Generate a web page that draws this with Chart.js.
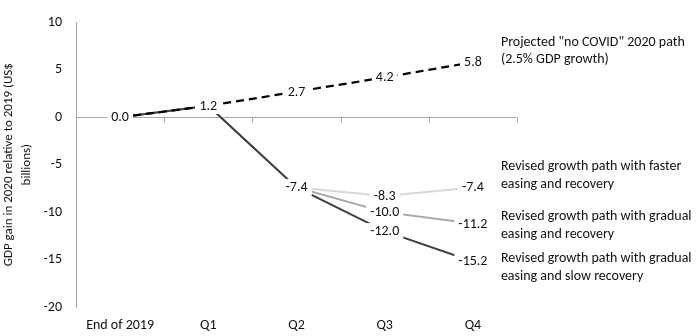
<!DOCTYPE html>
<html>
<head>
<meta charset="utf-8">
<script src="https://cdn.jsdelivr.net/npm/chart.js@4.4.1/dist/chart.umd.min.js"></script>
<style>
  html, body { margin: 0; padding: 0; background: #ffffff; }
  #wrap { width: 699px; height: 336px; }
</style>
</head>
<body>
<div id="wrap"><canvas id="c" width="699" height="336"></canvas></div>
<script>
// ---- data ----
const categories = ['End of 2019', 'Q1', 'Q2', 'Q3', 'Q4'];
const projected = [0.0, 1.2, 2.7, 4.2, 5.8];
const slowRecovery = [0.0, 1.2, -7.4, -12.0, -15.2];
const gradualRecovery = [0.0, 1.2, -7.4, -10.0, -11.2];
const fasterRecovery = [0.0, 1.2, -7.4, -8.3, -7.4];
const yMin = -20;
const yMax = 10;
const yStep = 5;
const yTitle = ['GDP gain in 2020 relative to 2019 (US$', 'billions)'];
const nameProjected = ['Projected "no COVID" 2020 path', '(2.5% GDP growth)'];
const nameSlow = ['Revised growth path with gradual', 'easing and slow recovery'];
const nameGradual = ['Revised growth path with gradual', 'easing and recovery'];
const nameFaster = ['Revised growth path with faster', 'easing and recovery'];

const FONT = 'Carlito, Calibri, Lato, "Liberation Sans", sans-serif';
const TEXT = '#111111';
const AXIS = '#a6a6a6';
const FS = 14;

// styling per series (kept apart from the data)
const nameOffsets = [-11, 6, 2, -12];

const zeroAxisPlugin = {
  id: 'zeroAxis',
  beforeDatasetsDraw(chart) {
    const ctx = chart.ctx;
    const x = chart.scales.x, y = chart.scales.y;
    const y0 = Math.round(y.getPixelForValue(0)) + 0.5;
    ctx.save();
    ctx.strokeStyle = AXIS;
    ctx.lineWidth = 1;
    ctx.beginPath();
    ctx.moveTo(chart.chartArea.left, y0);
    ctx.lineTo(chart.chartArea.right, y0);
    const n = categories.length;
    for (let i = 0; i < n; i++) {
      let bx;
      if (i < n - 1) bx = (x.getPixelForValue(i) + x.getPixelForValue(i + 1)) / 2;
      else bx = chart.chartArea.right;
      bx = Math.round(bx) + 0.5;
      ctx.moveTo(bx, y0);
      ctx.lineTo(bx, y0 + 5);
    }
    ctx.stroke();
    ctx.restore();
  }
};

const labelPlugin = {
  id: 'valueLabels',
  afterDatasetsDraw(chart) {
    const ctx = chart.ctx;
    ctx.save();
    ctx.font = FS + 'px ' + FONT;
    ctx.textAlign = 'center';
    ctx.textBaseline = 'middle';
    for (let d = chart.data.datasets.length - 1; d >= 0; d--) {
      const meta = chart.getDatasetMeta(d);
      const ds = chart.data.datasets[d];
      meta.data.forEach((pt, i) => {
        const txt = ds.data[i].toFixed(1);
        const w = ctx.measureText(txt).width;
        ctx.fillStyle = '#ffffff';
        ctx.fillRect(pt.x - w / 2 - 4, pt.y - 8, w + 8, 16);
        ctx.fillStyle = TEXT;
        ctx.fillText(txt, pt.x, pt.y + 0.5);
      });
    }
    ctx.textAlign = 'left';
    chart.data.datasets.forEach((ds, d) => {
      const meta = chart.getDatasetMeta(d);
      const last = meta.data[meta.data.length - 1];
      const lines = ds.label;
      const cy = last.y + nameOffsets[d];
      const lh = 17.5;
      lines.forEach((ln, k) => {
        ctx.fillStyle = TEXT;
        ctx.fillText(ln, last.x + 28, cy + (k - (lines.length - 1) / 2) * lh);
      });
    });
    ctx.restore();
  },
  afterDraw(chart) {
    const ctx = chart.ctx;
    const ca = chart.chartArea;
    ctx.save();
    ctx.font = '13px ' + FONT;
    ctx.fillStyle = TEXT;
    ctx.textAlign = 'center';
    ctx.textBaseline = 'middle';
    const cy = (ca.top + ca.bottom) / 2;
    const xs = [9, 27];
    yTitle.forEach((ln, k) => {
      ctx.save();
      ctx.translate(xs[k], cy);
      ctx.rotate(-Math.PI / 2);
      ctx.fillText(ln, 0, 0);
      ctx.restore();
    });
    ctx.restore();
  }
};

new Chart(document.getElementById('c'), {
  type: 'line',
  data: {
    labels: categories,
    datasets: [
      { label: nameProjected, data: projected, borderColor: '#000000', borderWidth: 2.25, borderDash: [8, 5], pointRadius: 0, fill: false, tension: 0 },
      { label: nameSlow, data: slowRecovery, borderColor: '#404040', borderWidth: 2, pointRadius: 0, fill: false, tension: 0 },
      { label: nameGradual, data: gradualRecovery, borderColor: '#a6a6a6', borderWidth: 2, pointRadius: 0, fill: false, tension: 0 },
      { label: nameFaster, data: fasterRecovery, borderColor: '#d9d9d9', borderWidth: 2, pointRadius: 0, fill: false, tension: 0 }
    ]
  },
  options: {
    responsive: false,
    animation: false,
    devicePixelRatio: 1,
    layout: { padding: { top: 11, right: 182, bottom: 0, left: 0 } },
    plugins: { legend: { display: false }, tooltip: { enabled: false }, title: { display: false } },
    scales: {
      x: {
        type: 'category',
        offset: true,
        grid: { display: false, drawTicks: false },
        border: { display: false },
        ticks: { color: TEXT, font: { family: FONT, size: FS }, padding: 10, maxRotation: 0, autoSkip: false },
        afterFit(s) { s.height = 29; }
      },
      y: {
        min: yMin, max: yMax,
        grid: { display: false, drawTicks: false },
        border: { display: true, color: AXIS, width: 1 },
        ticks: { stepSize: yStep, color: TEXT, font: { family: FONT, size: FS }, padding: 14 },
        afterFit(s) { s.width = 76; }
      }
    }
  },
  plugins: [zeroAxisPlugin, labelPlugin]
});
</script>
</body>
</html>
